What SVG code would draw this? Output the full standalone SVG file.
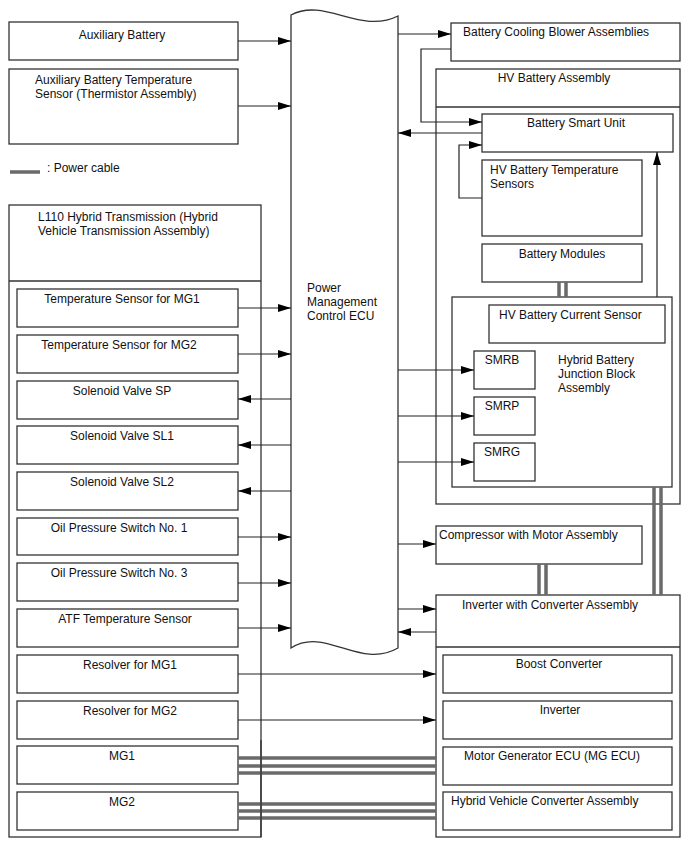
<svg xmlns="http://www.w3.org/2000/svg" width="688" height="852" viewBox="0 0 688 852">
<style>
.b{fill:#fff;stroke:#333;stroke-width:1.3}
.n{fill:none;stroke:#333;stroke-width:1.3}
.t{font-family:"Liberation Sans",Arial,sans-serif;font-size:12px;fill:#111}
.m{text-anchor:middle}
.c{fill:none;stroke:#222;stroke-width:1.2}
.p{fill:none;stroke:#6a6a6a;stroke-width:3.5}
</style>
<defs>
<marker id="ah" markerUnits="userSpaceOnUse" markerWidth="13" markerHeight="8" refX="13" refY="4" orient="auto">
<path d="M0,0 L13,4 L0,8 Z" fill="#000"/>
</marker>
</defs>
<rect width="688" height="852" fill="#fff"/>

<g id="aux-battery"><rect class="b" x="9" y="22" width="229" height="38"/><text class="t m" x="122" y="39">Auxiliary Battery</text></g>
<g id="aux-temp"><rect class="b" x="9" y="69" width="229" height="75"/><text class="t" x="35" y="84">Auxiliary Battery Temperature</text><text class="t" x="35" y="98">Sensor (Thermistor Assembly)</text></g>
<g id="legend"><line class="p" x1="10" y1="172" x2="40" y2="172"/><text class="t" x="47" y="172">: Power cable</text></g>

<g id="transmission">
<rect class="b" x="9" y="205" width="252" height="632"/>
<line class="n" x1="9" y1="281" x2="261" y2="281"/>
<text class="t" x="38" y="221">L110 Hybrid Transmission (Hybrid</text>
<text class="t" x="38" y="235">Vehicle Transmission Assembly)</text>
</g>
<g id="ts-mg1"><rect class="b" x="17" y="289" width="221" height="38"/><text class="t m" x="122" y="303">Temperature Sensor for MG1</text></g>
<g id="ts-mg2"><rect class="b" x="17" y="335" width="221" height="38"/><text class="t m" x="119" y="349">Temperature Sensor for MG2</text></g>
<g id="sv-sp"><rect class="b" x="17" y="381" width="221" height="38"/><text class="t m" x="122" y="395">Solenoid Valve SP</text></g>
<g id="sv-sl1"><rect class="b" x="17" y="426" width="221" height="38"/><text class="t m" x="122" y="440">Solenoid Valve SL1</text></g>
<g id="sv-sl2"><rect class="b" x="17" y="472" width="221" height="38"/><text class="t m" x="122" y="486">Solenoid Valve SL2</text></g>
<g id="ops1"><rect class="b" x="17" y="518" width="221" height="37"/><text class="t m" x="119" y="532">Oil Pressure Switch No. 1</text></g>
<g id="ops3"><rect class="b" x="17" y="563" width="221" height="38"/><text class="t m" x="119" y="577">Oil Pressure Switch No. 3</text></g>
<g id="atf"><rect class="b" x="17" y="609" width="221" height="38"/><text class="t m" x="125" y="623">ATF Temperature Sensor</text></g>
<g id="res-mg1"><rect class="b" x="17" y="655" width="221" height="38"/><text class="t m" x="130" y="669">Resolver for MG1</text></g>
<g id="res-mg2"><rect class="b" x="17" y="701" width="221" height="38"/><text class="t m" x="130" y="715">Resolver for MG2</text></g>
<g id="mg1"><rect class="b" x="17" y="746" width="221" height="38"/><text class="t m" x="122" y="760">MG1</text></g>
<g id="mg2"><rect class="b" x="17" y="792" width="221" height="38"/><text class="t m" x="122" y="806">MG2</text></g>

<g id="ecu">
<path class="b" d="M291,15 C325,-3 360,35 398,16 L398,648 C360,670 325,626 291,648 Z"/>
<text class="t" x="307" y="292">Power</text>
<text class="t" x="307" y="306">Management</text>
<text class="t" x="307" y="320">Control ECU</text>
</g>

<g id="blower"><rect class="b" x="451" y="23" width="229" height="38"/><text class="t" x="463" y="36">Battery Cooling Blower Assemblies</text></g>
<g id="hv-battery">
<rect class="b" x="436" y="69" width="244" height="435"/>
<line class="n" x1="436" y1="107" x2="680" y2="107"/>
<text class="t m" x="554" y="82">HV Battery Assembly</text>
</g>
<g id="bsu"><rect class="b" x="482" y="114" width="191" height="38"/><text class="t m" x="576" y="127">Battery Smart Unit</text></g>
<g id="hv-temp"><rect class="b" x="482" y="160" width="160" height="76"/><text class="t" x="490" y="174">HV Battery Temperature</text><text class="t" x="490" y="188">Sensors</text></g>
<g id="modules"><rect class="b" x="482" y="244" width="160" height="38"/><text class="t m" x="562" y="258">Battery Modules</text></g>
<g id="junction">
<rect class="b" x="452" y="297" width="220" height="190"/>
<text class="t" x="558" y="364">Hybrid Battery</text>
<text class="t" x="558" y="378">Junction Block</text>
<text class="t" x="558" y="392">Assembly</text>
</g>
<g id="current-sensor"><rect class="b" x="489" y="305" width="176" height="38"/><text class="t" x="499" y="319">HV Battery Current Sensor</text></g>
<g id="smrb"><rect class="b" x="474" y="351" width="61" height="38"/><text class="t m" x="502" y="364">SMRB</text></g>
<g id="smrp"><rect class="b" x="474" y="397" width="61" height="38"/><text class="t m" x="502" y="410">SMRP</text></g>
<g id="smrg"><rect class="b" x="474" y="443" width="61" height="38"/><text class="t m" x="502" y="456">SMRG</text></g>
<g id="compressor"><rect class="b" x="436" y="526" width="206" height="38"/><text class="t" x="439" y="539">Compressor with Motor Assembly</text></g>
<g id="inverter-assy">
<rect class="b" x="436" y="595" width="244" height="242"/>
<line class="n" x1="436" y1="647" x2="680" y2="647"/>
<text class="t" x="462" y="609">Inverter with Converter Assembly</text>
</g>
<g id="boost"><rect class="b" x="443" y="655" width="229" height="38"/><text class="t m" x="559" y="668">Boost Converter</text></g>
<g id="inverter"><rect class="b" x="443" y="701" width="229" height="38"/><text class="t m" x="560" y="714">Inverter</text></g>
<g id="mg-ecu"><rect class="b" x="443" y="747" width="229" height="38"/><text class="t m" x="552" y="760">Motor Generator ECU (MG ECU)</text></g>
<g id="hv-converter"><rect class="b" x="443" y="792" width="229" height="38"/><text class="t" x="451" y="805">Hybrid Vehicle Converter Assembly</text></g>

<g id="connectors">
<line class="c" x1="238" y1="41" x2="291" y2="41" marker-end="url(#ah)"/>
<line class="c" x1="238" y1="106" x2="291" y2="106" marker-end="url(#ah)"/>
<line class="c" x1="398" y1="34" x2="451" y2="34" marker-end="url(#ah)"/>
<path class="c" d="M451,49 H421 V122 H482" marker-end="url(#ah)"/>
<line class="c" x1="482" y1="133" x2="398" y2="133" marker-end="url(#ah)"/>
<path class="c" d="M482,198 H459 V145 H482" marker-end="url(#ah)"/>
<line class="c" x1="657" y1="297" x2="657" y2="152" marker-end="url(#ah)"/>
<line class="c" x1="398" y1="370" x2="474" y2="370" marker-end="url(#ah)"/>
<line class="c" x1="398" y1="416" x2="474" y2="416" marker-end="url(#ah)"/>
<line class="c" x1="398" y1="462" x2="474" y2="462" marker-end="url(#ah)"/>
<line class="c" x1="398" y1="544" x2="436" y2="544" marker-end="url(#ah)"/>
<line class="c" x1="398" y1="609" x2="436" y2="609" marker-end="url(#ah)"/>
<line class="c" x1="436" y1="632" x2="398" y2="632" marker-end="url(#ah)"/>
<line class="c" x1="238" y1="308" x2="291" y2="308" marker-end="url(#ah)"/>
<line class="c" x1="238" y1="354" x2="291" y2="354" marker-end="url(#ah)"/>
<line class="c" x1="291" y1="399" x2="238" y2="399" marker-end="url(#ah)"/>
<line class="c" x1="291" y1="445" x2="238" y2="445" marker-end="url(#ah)"/>
<line class="c" x1="291" y1="491" x2="238" y2="491" marker-end="url(#ah)"/>
<line class="c" x1="238" y1="537" x2="291" y2="537" marker-end="url(#ah)"/>
<line class="c" x1="238" y1="583" x2="291" y2="583" marker-end="url(#ah)"/>
<line class="c" x1="238" y1="628" x2="291" y2="628" marker-end="url(#ah)"/>
<line class="c" x1="238" y1="674" x2="436" y2="674" marker-end="url(#ah)"/>
<line class="c" x1="238" y1="720" x2="436" y2="720" marker-end="url(#ah)"/>
<line class="p" x1="559" y1="282" x2="559" y2="297"/>
<line class="p" x1="566" y1="282" x2="566" y2="297"/>
<line class="p" x1="654" y1="487" x2="654" y2="595"/>
<line class="p" x1="661" y1="487" x2="661" y2="595"/>
<line class="p" x1="539" y1="564" x2="539" y2="595"/>
<line class="p" x1="546" y1="564" x2="546" y2="595"/>
<line class="p" x1="238" y1="758" x2="436" y2="758"/>
<line class="p" x1="238" y1="766" x2="436" y2="766"/>
<line class="p" x1="238" y1="773" x2="436" y2="773"/>
<line class="p" x1="238" y1="804" x2="436" y2="804"/>
<line class="p" x1="238" y1="811" x2="436" y2="811"/>
<line class="p" x1="238" y1="818" x2="436" y2="818"/>
<line class="n" x1="261" y1="740" x2="261" y2="837"/>
</g>
</svg>
